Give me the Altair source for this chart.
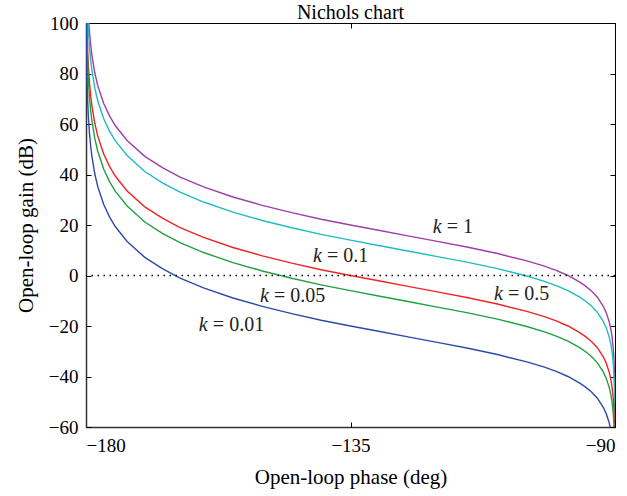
import altair as alt
import pandas as pd

# Open-loop phase (deg), shared by all curves
phase = [-179.97, -179.95, -179.9, -179.8, -179.7, -179.6, -179.4, -179.2, -179.0,
         -178.5, -178.0, -177.0, -176.0, -175.0, -173.0, -170.0, -167.0, -164.0,
         -160.0, -155.0, -150.0, -145.0, -140.0, -135.0, -130.0, -125.0, -120.0,
         -115.0, -110.0, -105.0, -102.0, -100.0, -98.0, -96.0, -95.0, -94.0, -93.0,
         -92.0, -91.5, -91.0, -90.7, -90.5, -90.3, -90.2, -90.1, -90.05, -90.02,
         -90.01, -90.005]

# Open-loop gain (dB) per curve
gain_k1 = [148.2, 139.3, 127.3, 115.2, 108.2, 103.2, 96.2, 91.2, 87.3, 80.2, 75.2,
           68.2, 63.2, 59.3, 53.5, 47.2, 42.7, 39.0, 35.1, 31.1, 27.8, 24.9, 22.3,
           20.0, 17.8, 15.6, 13.4, 11.2, 8.7, 5.8, 3.7, 2.0, 0.0, -2.6, -4.2, -6.1,
           -8.6, -12.2, -14.7, -18.2, -21.3, -24.2, -28.7, -32.2, -38.2, -44.2,
           -52.2, -58.2, -64.2]
gain_k05 = [142.2, 133.3, 121.3, 109.2, 102.2, 97.2, 90.2, 85.2, 81.3, 74.2, 69.2,
            62.2, 57.2, 53.3, 47.5, 41.2, 36.7, 33.0, 29.1, 25.1, 21.8, 18.9, 16.3,
            14.0, 11.8, 9.6, 7.4, 5.2, 2.7, -0.2, -2.3, -4.0, -6.0, -8.6, -10.2,
            -12.1, -14.6, -18.2, -20.7, -24.2, -27.3, -30.2, -34.7, -38.2, -44.2,
            -50.2, -58.2, -64.2, -70.2]
gain_k01 = [128.2, 119.3, 107.3, 95.2, 88.2, 83.2, 76.2, 71.2, 67.3, 60.2, 55.2,
            48.2, 43.2, 39.3, 33.5, 27.2, 22.7, 19.0, 15.1, 11.1, 7.8, 4.9, 2.3,
            0.0, -2.2, -4.4, -6.6, -8.8, -11.3, -14.2, -16.3, -18.0, -20.0, -22.6,
            -24.2, -26.1, -28.6, -32.2, -34.7, -38.2, -41.3, -44.2, -48.7, -52.2,
            -58.2, -64.2, -72.2, -78.2, -84.2]
gain_k005 = [122.2, 113.3, 101.3, 89.2, 82.2, 77.2, 70.2, 65.2, 61.3, 54.2, 49.2,
             42.2, 37.2, 33.3, 27.5, 21.2, 16.7, 13.0, 9.1, 5.1, 1.8, -1.1, -3.7,
             -6.0, -8.2, -10.4, -12.6, -14.8, -17.3, -20.2, -22.3, -24.0, -26.0,
             -28.6, -30.2, -32.1, -34.6, -38.2, -40.7, -44.2, -47.3, -50.2, -54.7,
             -58.2, -64.2, -70.2, -78.2, -84.2, -90.2]
gain_k001 = [108.2, 99.3, 87.3, 75.2, 68.2, 63.2, 56.2, 51.2, 47.3, 40.2, 35.2,
             28.2, 23.2, 19.3, 13.5, 7.2, 2.7, -1.0, -4.9, -8.9, -12.2, -15.1, -17.7,
             -20.0, -22.2, -24.4, -26.6, -28.8, -31.3, -34.2, -36.3, -38.0, -40.0,
             -42.6, -44.2, -46.1, -48.6, -52.2, -54.7, -58.2, -61.3, -64.2, -68.7,
             -72.2, -78.2, -84.2, -92.2, -98.2, -104.2]

series = ["k = 1", "k = 0.5", "k = 0.1", "k = 0.05", "k = 0.01"]
gains = [gain_k1, gain_k05, gain_k01, gain_k005, gain_k001]
colors = ["#9C3FA8", "#1FBCC0", "#EE2424", "#21A040", "#2B4BA8"]

x_ticks = [-180, -135, -90]
y_ticks = [-60, -40, -20, 0, 20, 40, 60, 80, 100]

# Curve annotations
ann_phase = [-121.0, -141.4, -150.4, -110.6, -160.8]
ann_gain = [19.4, 7.9, -8.3, -7.3, -19.8]
ann_rest = ["= 1", "= 0.1", "= 0.05", "= 0.5", "= 0.01"]

rows = []
for name, g in zip(series, gains):
    for p, v in zip(phase, g):
        rows.append({"phase": p, "gain": v, "series": name})
df = pd.DataFrame(rows)
ann = pd.DataFrame({"phase": ann_phase, "gain": ann_gain, "rest": ann_rest})
frame_df = pd.DataFrame({"phase": [x_ticks[0], x_ticks[-1]], "gain": [y_ticks[0], y_ticks[-1]]})

W, H = 529, 404
FONT = "Liberation Serif"
x_scale = alt.Scale(domain=[-180, -90], nice=False, zero=False)
y_scale = alt.Scale(domain=[-60, 100], nice=False, zero=False)

main_axis = dict(ticks=False, tickSize=0, grid=False, domainColor="#333333",
                 domainWidth=1.5, labelFontSize=19, titleFontSize=21,
                 labelColor="black", titleColor="black", titleFontWeight="normal",
                 labelFont=FONT, titleFont=FONT)

lines = alt.Chart(df).mark_line(strokeWidth=1.4, clip=True).encode(
    x=alt.X("phase:Q", scale=x_scale,
            axis=alt.Axis(orient="bottom", values=x_ticks, title="Open-loop phase (deg)",
                          labelPadding=9, titlePadding=11, **main_axis)),
    y=alt.Y("gain:Q", scale=y_scale,
            axis=alt.Axis(orient="left", values=y_ticks, title="Open-loop gain (dB)",
                          labelPadding=8, titlePadding=12, **main_axis)),
    color=alt.Color("series:N", scale=alt.Scale(domain=series, range=colors), legend=None),
)

tick_axis = dict(labels=False, domain=False, ticks=True, tickSize=5, tickColor="black",
                 tickWidth=1, grid=False)

t1 = alt.Chart(frame_df).mark_point(opacity=0, clip=True).encode(
    x=alt.X("phase:Q", scale=x_scale, title=None,
            axis=alt.Axis(orient="top", offset=-H, values=x_ticks, **tick_axis)),
    y=alt.Y("gain:Q", scale=y_scale, title=None,
            axis=alt.Axis(orient="right", offset=-W, values=y_ticks, **tick_axis)),
)
t2 = alt.Chart(frame_df).mark_point(opacity=0, clip=True).encode(
    x=alt.X("phase:Q", scale=x_scale, title=None,
            axis=alt.Axis(orient="bottom", offset=-H, values=x_ticks, **tick_axis)),
    y=alt.Y("gain:Q", scale=y_scale, title=None,
            axis=alt.Axis(orient="left", offset=-W, values=y_ticks, **tick_axis)),
)

zero = alt.Chart(pd.DataFrame({"gain": [0]})).mark_rule(
    color="black", strokeDash=[1.5, 4.5], strokeWidth=1.3
).encode(y=alt.Y("gain:Q", scale=y_scale, axis=None))

k_text = alt.Chart(ann).mark_text(
    text="k", fontStyle="italic", fontSize=20, align="left", baseline="middle",
    font=FONT, color="#222222"
).encode(
    x=alt.X("phase:Q", scale=x_scale, axis=None),
    y=alt.Y("gain:Q", scale=y_scale, axis=None),
)
rest_text = alt.Chart(ann).mark_text(
    fontSize=20, align="left", baseline="middle", dx=14, font=FONT, color="#222222"
).encode(
    x=alt.X("phase:Q", scale=x_scale, axis=None),
    y=alt.Y("gain:Q", scale=y_scale, axis=None),
    text="rest:N",
)

chart = alt.layer(lines, zero, t1, t2, k_text, rest_text).resolve_axis(
    x="independent", y="independent"
).properties(
    width=W, height=H,
    title=alt.TitleParams("Nichols chart", fontSize=20, fontWeight="normal", offset=-9,
                          anchor="middle", color="black", font=FONT),
    autosize=alt.AutoSizeParams(type="none"),
    padding={"left": 86, "top": 23, "right": 12, "bottom": 69},
).configure(font=FONT).configure_view(stroke="black", strokeWidth=1)

chart.save("out.html", embed_options={"renderer": "svg", "actions": False})
